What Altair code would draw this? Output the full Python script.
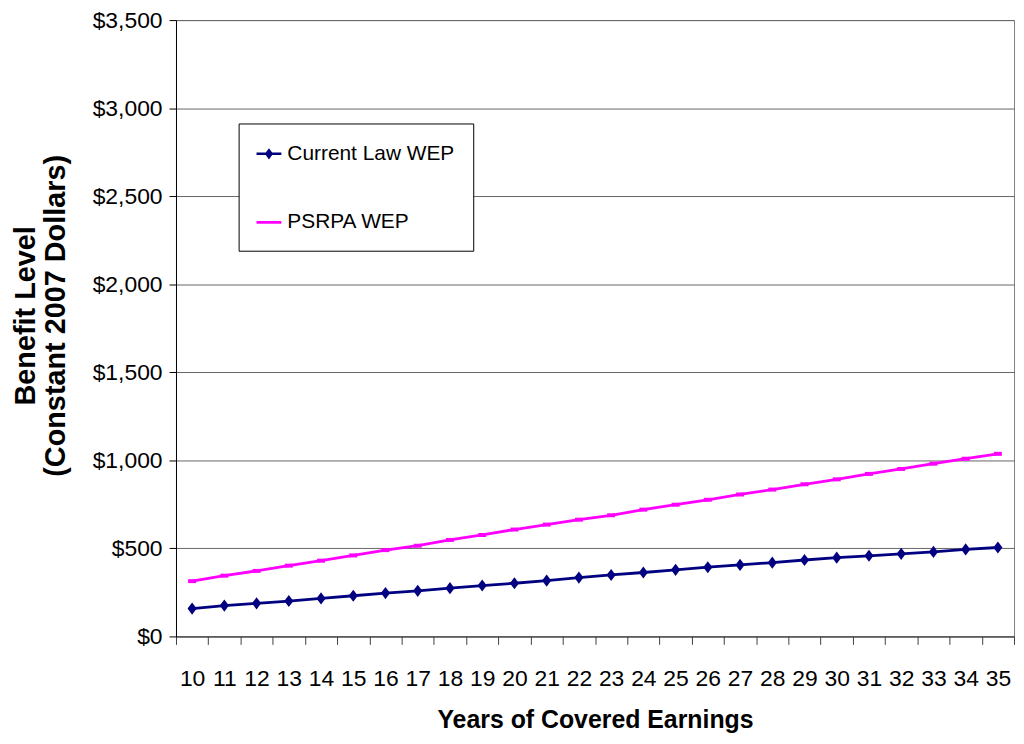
import altair as alt
import pandas as pd

years = list(range(10, 36))
current_law = [158, 175, 188, 201, 216, 231, 246, 259, 274, 289, 302, 317, 334,
               349, 363, 378, 393, 406, 419, 434, 447, 458, 469, 480, 494, 505]
psrpa = [314, 345, 372, 402, 430, 460, 490, 515, 548, 576, 607, 635, 663,
         688, 720, 748, 776, 806, 834, 864, 892, 923, 951, 981, 1009, 1037]
series_names = ["Current Law WEP", "PSRPA WEP"]
series_colors = ["#000080", "#FF00FF"]
y_ticks = [0, 500, 1000, 1500, 2000, 2500, 3000, 3500]

df = pd.DataFrame({
    "year": years + years,
    "benefit": current_law + psrpa,
    "series": [series_names[0]] * len(years) + [series_names[1]] * len(years),
})

FONT = "Liberation Sans"

legend = alt.Legend(
    orient="none", legendX=63, legendY=104, title=None,
    padding=18, fillColor="white", strokeColor="black",
    labelFont=FONT, labelFontSize=21, labelColor="black", labelOffset=6, labelLimit=400,
    symbolSize=625, rowPadding=46, symbolOpacity=1, symbolStrokeWidth=0,
)

color = alt.Color("series:N", scale=alt.Scale(domain=series_names, range=series_colors), legend=legend)

x = alt.X(
    "year:O",
    scale=alt.Scale(type="band", paddingInner=0, paddingOuter=0),
    axis=alt.Axis(
        title="Years of Covered Earnings", tickBand="extent", labelAngle=0,
        labelFont=FONT, labelFontSize=23, labelColor="black", labelBaseline="alphabetic",
        labelPadding=41, labelOverlap=False, tickSize=8, tickColor="#404040",
        domainColor="#404040", titleFont=FONT, titleFontSize=25, titleFontWeight="bold",
        titleColor="black", titleBaseline="alphabetic", titleY=92, grid=False,
    ),
)
y = alt.Y(
    "benefit:Q",
    scale=alt.Scale(domain=[0, 3500], nice=False),
    axis=alt.Axis(
        title=["Benefit Level", "(Constant 2007 Dollars)"], values=y_ticks, format="$,.0f",
        labelFont=FONT, labelFontSize=23, labelColor="black", labelPadding=7,
        labelOverlap=False, tickSize=7, tickColor="black", domainColor="black",
        grid=True, gridColor="#666666", gridWidth=1,
        titleFont=FONT, titleFontSize=29, titleFontWeight="bold", titleColor="black",
        titleAngle=270, titleAlign="center", titleBaseline="alphabetic",
        titleX=-142, titleY=297, titleLineHeight=30,
    ),
)

base = alt.Chart(df)

lines = base.mark_line(strokeWidth=2.8).encode(x=x, y=y, color=color)

diamonds = base.transform_filter(alt.datum.series == series_names[0]).mark_point(
    shape="M0,-1L0.75,0L0,1L-0.75,0Z", filled=True, size=150, opacity=1
).encode(x=x, y=y, color=color)

dashes = base.transform_filter(alt.datum.series == series_names[1]).mark_point(
    shape="M-1,-0.5H1V0.5H-1Z", filled=True, size=64, opacity=1
).encode(x=x, y=y, color=color)

legend_shapes = [
    "M-1,-0.1H1V0.1H-1Z M0,-0.45L0.33,0L0,0.45L-0.33,0Z",
    "M-1,-0.11H1V0.11H-1Z",
]
legend_layer = base.transform_filter(alt.datum.year < 0).mark_point(filled=True).encode(
    x=x, y=y, color=color,
    shape=alt.Shape("series:N", scale=alt.Scale(domain=series_names, range=legend_shapes), legend=legend),
)

chart = alt.layer(lines, diamonds, dashes, legend_layer).properties(
    width=843, height=620,
    autosize=alt.AutoSizeParams(type="none"),
    padding={"left": 169, "top": 10, "right": 2, "bottom": 96},
    background="white",
).configure_view(stroke="#808080", strokeWidth=1)

chart.save("out.html", embed_options={"renderer": "svg", "actions": False})
